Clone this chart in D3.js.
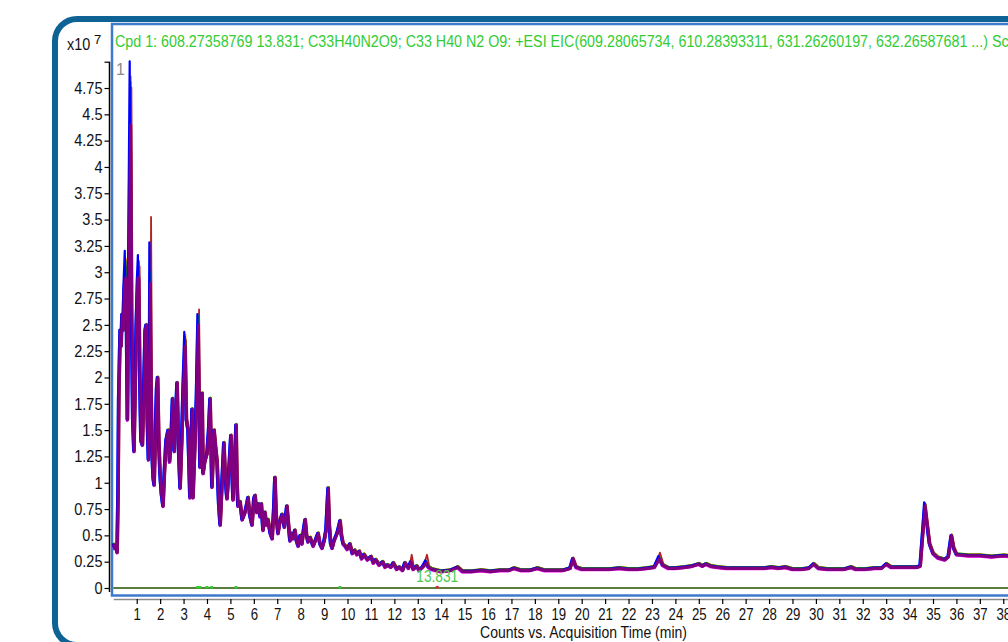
<!DOCTYPE html>
<html>
<head>
<meta charset="utf-8">
<script src="https://cdn.jsdelivr.net/npm/d3@7"></script>
<style>
  body { margin: 0; background: #fff; }
  text { font-family: "Liberation Sans", Arial, sans-serif; }
</style>
</head>
<body>
<svg id="chart" width="1008" height="642"></svg>
<script>
// chart text
var titleText = "Cpd 1: 608.27358769 13.831; C33H40N2O9; C33 H40 N2 O9: +ESI EIC(609.28065734, 610.28393311, 631.26260197, 632.26587681 ...) Scan Frag=175.0V";
var xTitle = "Counts vs. Acquisition Time (min)";
var rtLabel = "13.831";

// tick values (counts x10^7, minutes)
var yTicks = [0, 0.25, 0.5, 0.75, 1, 1.25, 1.5, 1.75, 2, 2.25, 2.5, 2.75, 3, 3.25, 3.5, 3.75, 4, 4.25, 4.5, 4.75, 5];
var xTicks = [1, 2, 3, 4, 5, 6, 7, 8, 9, 10, 11, 12, 13, 14, 15, 16, 17, 18, 19, 20,
              21, 22, 23, 24, 25, 26, 27, 28, 29, 30, 31, 32, 33, 34, 35, 36, 37, 38, 39, 40];

// main trace [time (min), counts x10^7]
var base = [
  [0.00,0.42],[0.05,0.38],[0.10,0.40],[0.16,0.34],[0.20,0.9],[0.23,1.8],[0.29,2.45],[0.33,2.3],
  [0.37,2.6],[0.41,2.45],[0.46,2.85],[0.52,2.95],[0.56,2.6],[0.60,1.6],[0.65,2.8],[0.73,4.4],
  [0.78,2.6],[0.83,1.6],[0.88,1.3],[0.93,1.9],[0.98,2.5],[1.04,2.95],[1.08,2.95],[1.13,2.0],
  [1.18,1.4],[1.24,1.36],[1.30,1.9],[1.36,2.45],[1.40,2.5],[1.45,1.6],[1.50,1.22],[1.54,2.0],
  [1.57,2.9],[1.61,1.9],[1.65,1.3],[1.70,1.05],[1.74,0.98],[1.80,1.5],[1.85,1.9],[1.89,2.0],
  [1.94,1.4],[1.99,1.1],[2.05,0.9],[2.12,0.78],[2.18,1.1],[2.25,1.4],[2.34,1.5],[2.40,1.2],
  [2.47,1.45],[2.53,1.8],[2.60,1.3],[2.66,1.6],[2.72,1.95],[2.79,1.3],[2.85,0.95],[2.92,1.4],
  [2.98,1.9],[3.06,2.3],[3.12,1.6],[3.19,1.5],[3.27,0.86],[3.32,1.3],[3.36,1.7],[3.40,0.86],
  [3.47,1.3],[3.55,1.8],[3.62,2.5],[3.66,1.8],[3.70,1.15],[3.75,1.5],[3.79,1.85],[3.83,1.09],
  [3.90,1.2],[4.00,1.28],[4.07,1.5],[4.13,1.8],[4.21,0.96],[4.30,1.5],[4.36,1.35],[4.43,1.2],
  [4.50,0.8],[4.56,0.6],[4.64,1.0],[4.72,1.38],[4.78,1.05],[4.85,0.85],[4.93,1.1],[5.02,1.45],
  [5.07,1.1],[5.11,0.84],[5.18,1.2],[5.24,1.55],[5.28,1.0],[5.32,0.78],[5.41,0.82],[5.50,0.65],
  [5.62,0.72],[5.70,0.8],[5.75,0.86],[5.82,0.7],[5.92,0.6],[6.00,0.85],[6.05,0.88],[6.12,0.72],
  [6.20,0.8],[6.26,0.68],[6.32,0.8],[6.39,0.55],[6.47,0.72],[6.54,0.6],[6.60,0.65],[6.70,0.52],
  [6.78,0.47],[6.85,0.75],[6.90,1.05],[6.95,0.7],[7.03,0.52],[7.10,0.62],[7.20,0.7],[7.30,0.58],
  [7.41,0.78],[7.48,0.6],[7.54,0.45],[7.60,0.52],[7.67,0.47],[7.75,0.55],[7.82,0.45],[7.89,0.4],
  [7.98,0.5],[8.05,0.42],[8.12,0.55],[8.19,0.65],[8.25,0.5],[8.31,0.44],[8.40,0.48],[8.53,0.4],
  [8.62,0.45],[8.74,0.52],[8.82,0.42],[8.91,0.38],[9.00,0.45],[9.08,0.55],[9.17,0.95],[9.22,0.6],
  [9.28,0.42],[9.34,0.38],[9.42,0.45],[9.55,0.52],[9.62,0.58],[9.68,0.64],[9.74,0.5],[9.81,0.42],
  [9.90,0.4],[9.98,0.37],[10.1,0.42],[10.2,0.33],[10.3,0.36],[10.4,0.32],[10.5,0.35],[10.6,0.28],
  [10.7,0.32],[10.85,0.27],[11.0,0.3],[11.1,0.24],[11.2,0.27],[11.35,0.22],[11.5,0.25],[11.6,0.2],
  [11.7,0.22],[11.85,0.2],[11.95,0.24],[12.1,0.18],[12.2,0.2],[12.35,0.17],[12.45,0.24],[12.6,0.19],
  [12.7,0.25],[12.8,0.18],[12.95,0.21],[13.05,0.17],[13.2,0.2],[13.35,0.24],[13.45,0.2],[13.6,0.18],
  [13.8,0.17],[14.0,0.16],[14.4,0.17],[14.7,0.2],[14.9,0.16],[15.3,0.16],[15.7,0.17],[16.1,0.16],
  [16.5,0.17],[16.9,0.17],[17.1,0.19],[17.4,0.17],[17.8,0.17],[18.1,0.19],[18.4,0.17],[18.8,0.17],
  [19.2,0.17],[19.5,0.19],[19.62,0.28],[19.75,0.2],[20.0,0.18],[20.4,0.18],[20.8,0.18],[21.2,0.18],
  [21.6,0.19],[22.0,0.18],[22.4,0.18],[22.8,0.19],[23.1,0.2],[23.3,0.28],[23.45,0.22],[23.7,0.19],
  [24.0,0.19],[24.4,0.2],[24.7,0.21],[25.0,0.23],[25.15,0.21],[25.3,0.23],[25.5,0.21],[25.8,0.2],
  [26.2,0.19],[26.6,0.19],[27.0,0.19],[27.4,0.19],[27.8,0.19],[28.1,0.2],[28.4,0.19],[28.7,0.2],
  [29.0,0.18],[29.4,0.18],[29.7,0.19],[29.9,0.23],[30.1,0.19],[30.5,0.18],[30.9,0.18],[31.2,0.18],
  [31.5,0.2],[31.7,0.18],[32.1,0.18],[32.5,0.19],[32.8,0.19],[33.0,0.23],[33.2,0.2],[33.6,0.2],
  [34.0,0.2],[34.3,0.2],[34.45,0.21],[34.55,0.5],[34.65,0.78],[34.75,0.6],[34.85,0.42],[35.0,0.33],
  [35.2,0.29],[35.5,0.27],[35.65,0.3],[35.78,0.5],[35.88,0.38],[36.0,0.32],[36.5,0.31],[37.0,0.31],
  [37.5,0.3],[38.0,0.31],[38.5,0.3],[40.0,0.3]
];

// peak tops where the other traces differ from the main one
var tipTimes   = [0.52, 0.73, 1.08, 1.57, 3.06, 3.62, 12.7, 13.35, 23.3, 34.65];
var blueTips   = [3.2,  5.0,  3.16, 3.28, 2.43, 2.6,  0.25, 0.26,  0.3,  0.81];
var redTips    = [3.05, 4.75, 3.05, 3.52, 2.35, 2.64, 0.31, 0.31,  0.33, 0.79];
var greenTips  = [3.1,  4.8,  3.1,  3.0,  2.38, 2.58, 0.24, 0.25,  0.29, 0.8];
var orangeTips = [3.12, 4.85, 3.08, 3.0,  2.4,  2.57, 0.24, 0.25,  0.29, 0.79];

// flat trace at zero and its little marks
var zeroTrace = [[0, 0], [45, 0]];
var zeroMarks = [3.6, 3.7, 4.0, 4.2, 5.24, 9.68, 13.83];

var svg = d3.select("#chart");

// outer rounded frame
svg.append("rect")
  .attr("x", 55).attr("y", 19)
  .attr("width", 1100).attr("height", 626)
  .attr("rx", 22)
  .attr("fill", "none")
  .attr("stroke", "#0e6394")
  .attr("stroke-width", 6);

// plot box
svg.append("rect")
  .attr("x", 112).attr("y", 24)
  .attr("width", 1000).attr("height", 571.5)
  .attr("fill", "none")
  .attr("stroke", "#3d7acb")
  .attr("stroke-width", 2.5);

var xScale = d3.scaleLinear().domain([0, 45]).range([113.3, 113.3 + 45 * 23.42]);
var yScale = d3.scaleLinear().domain([0, 5]).range([588, 61.7]);

// squeeze text horizontally, the original uses a narrow face
function squeeze(sel, k) {
  sel.each(function () {
    var t = d3.select(this);
    var x = +t.attr("x") || 0;
    t.attr("x", x / k).attr("transform", "scale(" + k + ",1)");
  });
}

// y axis
var yAxis = d3.axisLeft(yScale)
  .tickValues(yTicks)
  .tickFormat(function (d) { return d === 5 ? "" : String(d); })
  .tickSize(5)
  .tickPadding(2)
  .tickSizeOuter(0);

var gy = svg.append("g")
  .attr("transform", "translate(109.5,0)")
  .call(yAxis);
gy.select(".domain").attr("stroke", "#000").attr("stroke-width", 1.5)
  .attr("d", "M0," + yScale(5) + "V592");
gy.selectAll(".tick line").attr("stroke", "#000").attr("stroke-width", 1.2);
gy.selectAll(".tick text").style("font-size", "16.5px").attr("fill", "#111");
squeeze(gy.selectAll(".tick text"), 0.88);

// x axis
var xAxis = d3.axisBottom(xScale)
  .tickValues(xTicks)
  .tickFormat(function (d) { return String(d); })
  .tickSize(5)
  .tickPadding(4.6)
  .tickSizeOuter(0);

var gx = svg.append("g")
  .attr("transform", "translate(0,599)")
  .call(xAxis);
gx.select(".domain").attr("stroke", "#8c8c8c").attr("stroke-width", 1.5);
gx.selectAll(".tick line").attr("stroke", "#000").attr("stroke-width", 1.2);
gx.selectAll(".tick text").style("font-size", "16.5px").attr("fill", "#111");
squeeze(gx.selectAll(".tick text"), 0.8);

// zero trace
var line = d3.line()
  .x(function (d) { return xScale(d[0]); })
  .y(function (d) { return yScale(d[1]); });

svg.append("path")
  .datum(zeroTrace)
  .attr("d", line)
  .attr("fill", "none")
  .attr("stroke", "#5b7d3b")
  .attr("stroke-width", 2);

svg.selectAll("rect.mark")
  .data(zeroMarks)
  .enter()
  .append("rect")
  .attr("class", "mark")
  .attr("x", function (d) { return xScale(d) - 1.5; })
  .attr("y", yScale(0) - 2)
  .attr("width", 3)
  .attr("height", 2.5)
  .attr("fill", function (d) { return d === 13.83 ? "#d03030" : "#33cc33"; });

// the overlaid traces, purple drawn last and widest
var traces = [
  { color: "#32cd32", tips: null,       dx: 0.4,  dy: -1.2, w: 1.6 },
  { color: "#ff00ff", tips: null,       dx: -0.6, dy: 1.4,  w: 1.8 },
  { color: "#ff8c00", tips: orangeTips, dx: 0.5,  dy: -1.0, w: 1.8 },
  { color: "#000000", tips: null,       dx: 0.8,  dy: 0.6,  w: 1.4 },
  { color: "#b22222", tips: redTips,    dx: 1.0,  dy: -0.6, w: 1.8 },
  { color: "#1e90ff", tips: null,       dx: -1.0, dy: 0.3,  w: 1.6 },
  { color: "#008000", tips: greenTips,  dx: 0.2,  dy: -0.8, w: 1.8 },
  { color: "#0000ff", tips: blueTips,   dx: -0.7, dy: -0.3, w: 2.2 },
  { color: "#800080", tips: null,       dx: 0.3,  dy: 0.5,  w: 3.0 }
];

traces.forEach(function (tr) {
  var pts = base.map(function (p) {
    var i = tipTimes.indexOf(p[0]);
    if (tr.tips && i >= 0) return [p[0], tr.tips[i]];
    return p;
  });
  svg.append("path")
    .datum(pts)
    .attr("d", line)
    .attr("transform", "translate(" + tr.dx + "," + tr.dy + ")")
    .attr("fill", "none")
    .attr("stroke", tr.color)
    .attr("stroke-width", tr.w)
    .attr("stroke-linejoin", "round");
});

// title
var gt = svg.append("g");
var title = gt.append("text")
  .attr("x", 0).attr("y", 0)
  .style("font-size", "16.5px")
  .attr("fill", "#33cc33")
  .text(titleText);
var cut = titleText.indexOf(")") + 1;
var kt = 874 / title.node().getSubStringLength(0, cut);
gt.attr("transform", "translate(115,47) scale(" + kt + ",1)");

// x10^7 multiplier
svg.append("text")
  .attr("x", 0).attr("y", 0)
  .style("font-size", "16px")
  .attr("fill", "#111")
  .attr("transform", "translate(67,50) scale(0.9,1)")
  .text("x10");
svg.append("text")
  .attr("x", 94).attr("y", 44)
  .style("font-size", "13px")
  .attr("fill", "#111")
  .text("7");

// trace number
svg.append("text")
  .attr("x", 116).attr("y", 75)
  .style("font-size", "16px")
  .attr("fill", "#8a8a8a")
  .text("1");

// retention time label
var gr = svg.append("g");
var rt = gr.append("text")
  .attr("x", 0).attr("y", 0)
  .attr("text-anchor", "middle")
  .style("font-size", "16.5px")
  .attr("fill", "#4cc94c")
  .text(rtLabel);
var kr = 42 / rt.node().getComputedTextLength();
gr.attr("transform", "translate(" + xScale(13.831) + ",582) scale(" + kr + ",1)");

// x axis title
var gxt = svg.append("g");
var xt = gxt.append("text")
  .attr("x", 0).attr("y", 0)
  .attr("text-anchor", "middle")
  .style("font-size", "16.5px")
  .attr("fill", "#111")
  .text(xTitle);
var kx = 207 / xt.node().getComputedTextLength();
gxt.attr("transform", "translate(583.5,638) scale(" + kx + ",1)");
</script>
</body>
</html>
